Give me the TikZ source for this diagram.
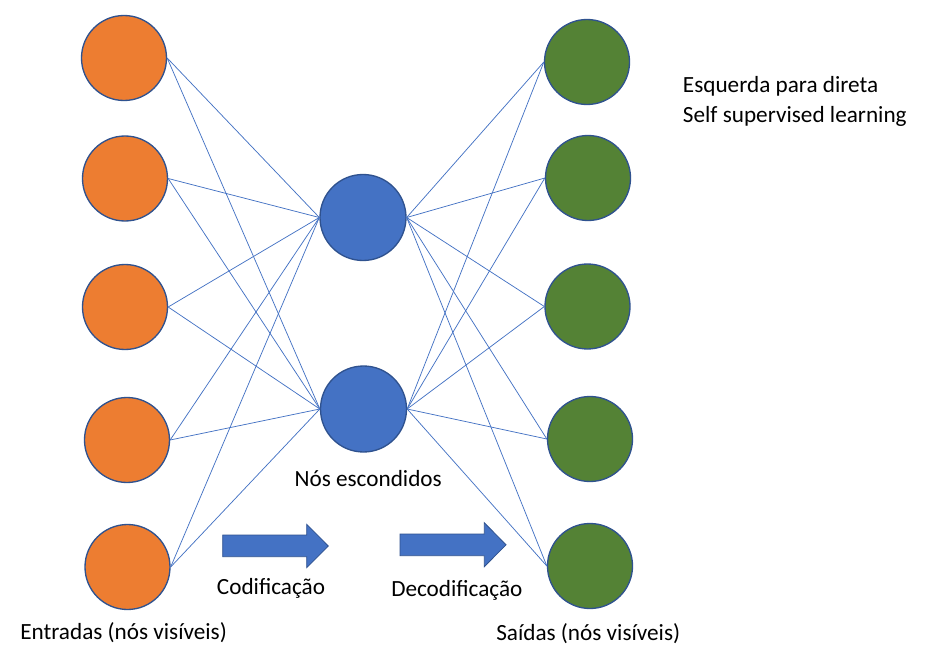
\documentclass[tikz,border=0pt]{standalone}
\usepackage{fontspec}
\setmainfont{Carlito}
\definecolor{orng}{HTML}{ED7D31}
\definecolor{blu}{HTML}{4472C4}
\definecolor{grn}{HTML}{548235}
\definecolor{edge}{HTML}{2F528F}
\begin{document}
\begin{tikzpicture}[x=0.75pt,y=-0.75pt,
  neuron/.style={circle,draw=edge,line width=1pt,inner sep=0pt,minimum size=63.75pt},
  inn/.style={neuron,fill=orng},
  hid/.style={neuron,fill=blu,minimum size=64.5pt},
  outn/.style={neuron,fill=grn},
  link/.style={draw=blu,line width=0.55pt},
  lbl/.style={inner sep=0pt,anchor=base west,font=\fontsize{17.4pt}{20pt}\selectfont},
  bigarrow/.style={fill=blu,draw=edge,line width=0.6pt}]
\useasboundingbox (0,0) rectangle (927,663);
\fill[white] (0,0) rectangle (927,663);
% nodes
\node[inn] (o1) at (124,58) {};
\node[inn] (o2) at (125,178.5) {};
\node[inn] (o3) at (125,307) {};
\node[inn] (o4) at (127,440) {};
\node[inn] (o5) at (127.5,567) {};
\node[hid] (b1) at (363,217.5) {};
\node[hid] (b2) at (363.5,409) {};
\node[outn] (g1) at (587,62) {};
\node[outn] (g2) at (588,178) {};
\node[outn] (g3) at (587.5,306.5) {};
\node[outn] (g4) at (590,439) {};
\node[outn] (g5) at (590,566) {};
% links
\foreach \i in {1,...,5}{
  \foreach \j in {1,2}{
    \draw[link] (o\i.east) -- (b\j.west);
    \draw[link] (b\j.east) -- (g\i.west);
  }
}
% block arrows
\draw[bigarrow] (222.7,535) -- (306.7,535) -- (306.7,524.3) -- (328.3,546) -- (306.7,567.7) -- (306.7,556.7) -- (222.7,556.7) -- cycle;
\draw[bigarrow] (400,534) -- (484.3,534) -- (484.3,522.7) -- (506,544.8) -- (484.3,566.7) -- (484.3,555.7) -- (400,555.7) -- cycle;
% labels
\node[lbl] (tEsq) at (682.7,92.3) {Esquerda para direta};
\node[lbl] (tSelf) at (682.7,122.7) {Self supervised learning};
\node[lbl] (tHid) at (294.3,486) {Nós escondidos};
\node[lbl] (tCod) at (216.7,594) {Codificação};
\node[lbl] (tDec) at (391,596.7) {Decodificação};
\node[lbl] (tIn) at (20,639) {Entradas (nós visíveis)};
\node[lbl] (tOut) at (496,640) {Saídas (nós visíveis)};
\end{tikzpicture}
\end{document}
